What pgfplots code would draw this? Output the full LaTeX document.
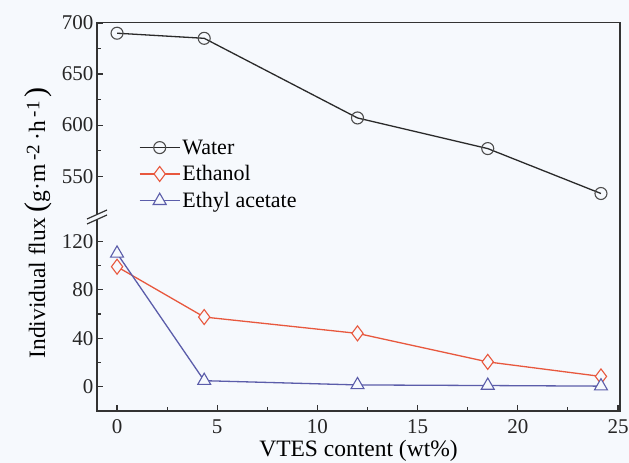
\documentclass[border=0pt]{standalone}
\usepackage{pgfplots}
\pgfplotsset{compat=1.18}
\usepackage{fontspec}
\setmainfont{Liberation Serif}
\definecolor{bgc}{HTML}{F6F9FD}
\definecolor{watc}{HTML}{2A2A2A}
\definecolor{ethc}{HTML}{E8583E}
\definecolor{eacc}{HTML}{5B5DAA}
\definecolor{axc}{HTML}{333333}

\begin{document}
\begin{tikzpicture}[x=1pt,y=1pt]
\fill[bgc] (0pt,0pt) rectangle (629pt,463pt);
\useasboundingbox (0pt,0pt) rectangle (629pt,463pt);
\pgfplotsset{
  brk/.style={
    scale only axis, width=523pt, height=194pt,
    xmin=-1, xmax=25.1,
    axis line style={draw=none},
    tick style={axc, line width=1.1pt},
    major tick length=6pt, minor tick length=3.5pt,
    tick align=inside,
    every tick label/.append style={font=\fontsize{21}{25}\selectfont, text=black!85},
    /pgf/number format/assume math mode=true,
  },
  sWat/.style={watc, line width=1.3pt, mark=o, mark size=6pt,
    mark options={fill=bgc, line width=1.1pt, draw=black!70}},
  sEth/.style={ethc, line width=1.3pt, mark=diamond*, mark size=7.5pt,
    mark options={fill=bgc, line width=1.1pt}},
  sEac/.style={eacc, line width=1.3pt, mark=triangle*, mark size=7.5pt,
    mark options={fill=bgc, line width=1.1pt}},
}

% lower part
\begin{axis}[brk, name=lo, at={(97pt,52pt)}, anchor=south west,
  ymin=-20, ymax=140,
  xtick={0,5,10,15,20,25}, minor x tick num=1,
  ytick={0,40,80,120}, minor y tick num=1,
  ytick pos=left, xtick pos=bottom,
  xticklabel style={yshift=-5pt},
  xlabel={VTES content (wt\%)},
  xlabel style={font=\fontsize{23.5}{26}\selectfont, at={(axis description cs:0.5,0)},
    anchor=north, yshift=-26pt},
]
\addplot[sEth] coordinates {(0,99) (4.35,57.5) (12,44) (18.5,20.5) (24.15,8.5)};
\addplot[sEac] coordinates {(0,110) (4.35,5) (12,1.5) (18.5,1) (24.15,0.5)};
\end{axis}

% upper part
\begin{axis}[brk, name=up, at={(97pt,246pt)}, anchor=south west,
  ymin=510, ymax=700,
  xtick=\empty,
  ytick={550,600,650,700}, minor y tick num=1,
  ytick pos=left,
  legend style={at={(0.08,0.41)}, anchor=north west, draw=none, fill=none,
    font=\fontsize{22}{25}\selectfont, row sep=6pt, inner sep=0pt,
    /tikz/every odd column/.append style={column sep=0pt}},
  legend cell align=left,
  legend image code/.code={
    \draw[mark repeat=2, mark phase=2] plot coordinates {(0pt,0pt) (20pt,0pt) (40pt,0pt)};
  },
]
\addplot[sWat] coordinates {(0,690) (4.35,685) (12,607) (18.5,577) (24.15,533)};
\addlegendentry{Water}
\addlegendimage{sEth}
\addlegendentry{Ethanol}
\addlegendimage{sEac}
\addlegendentry{Ethyl acetate}
\end{axis}

% frame of the broken axis
\draw[axc, line width=1.4pt, line join=miter] (97pt,246pt) -- (97pt,440.3pt)
  -- (620pt,440.3pt) -- (620pt,52pt) -- (97pt,52pt) -- (97pt,246pt);

% axis break marks
\fill[bgc] (87pt,239pt) -- (107pt,248pt) -- (107pt,253pt) -- (87pt,244pt) -- cycle;
\draw[axc, line width=1.2pt] (87pt,239pt) -- (107pt,248pt);
\draw[axc, line width=1.2pt] (87pt,244pt) -- (107pt,253pt);

\node[rotate=90, font=\fontsize{23.5}{26}\selectfont] at (38pt,240pt)
  {Individual flux {\fontsize{30}{30}\selectfont(}g·m\,\raisebox{0.55ex}{\fontsize{19}{20}\selectfont -2}\,·h\,\raisebox{0.55ex}{\fontsize{19}{20}\selectfont -1}\,{\fontsize{30}{30}\selectfont)}};
\end{tikzpicture}
\end{document}
